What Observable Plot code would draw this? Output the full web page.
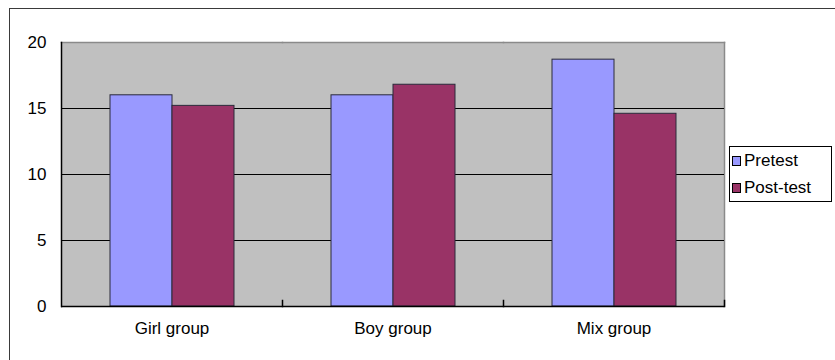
<!DOCTYPE html>
<html>
<head>
<meta charset="utf-8">
<script src="https://cdn.jsdelivr.net/npm/d3@7"></script>
<script src="https://cdn.jsdelivr.net/npm/@observablehq/plot@0.6"></script>
<style>
  html, body { margin: 0; padding: 0; background: #fff; overflow: hidden; }
  body { width: 835px; height: 360px; position: relative; font-family: "Liberation Sans", Arial, sans-serif; }
  #chart { position: absolute; left: 0; top: 0; }
  #outer { position: absolute; left: 9px; top: 8px; width: 900px; height: 400px; border: 1.5px solid #3a3a3a; box-sizing: border-box; pointer-events: none; }
  #legend { position: absolute; left: 729px; top: 146px; width: 103px; height: 56px; border: 1px solid #000; box-sizing: border-box; background: #fff; }
  .item { position: absolute; left: 2px; height: 20px; display: flex; align-items: center; font-size: 17px; color: #000; }
  .sw { width: 9px; height: 10px; border: 1px solid #000; margin-right: 3px; box-sizing: border-box; }
</style>
</head>
<body>
<div id="chart"></div>
<div id="legend"></div>
<div id="outer"></div>
<script>
const groups = ["Girl group", "Boy group", "Mix group"];
const seriesNames = ["Pretest", "Post-test"];
const pretest = [16.0, 16.0, 18.7];
const posttest = [15.2, 16.8, 14.6];
const seriesColors = ["#9999FF", "#993366"];
const yTicks = [0, 5, 10, 15, 20];
const gridValues = [5, 10, 15];

const data = [];
groups.forEach((g, i) => {
  data.push({group: g, series: seriesNames[0], value: pretest[i]});
  data.push({group: g, series: seriesNames[1], value: posttest[i]});
});

const W = 835, H = 360;
const mTop = 42, mBottom = 54, mLeft = 60, mRight = 111;
const innerH = H - mTop - mBottom;

const chart = Plot.plot({
  width: W,
  height: H,
  marginTop: mTop,
  marginBottom: mBottom,
  marginLeft: mLeft,
  marginRight: mRight,
  style: {background: "transparent", fontFamily: "'Liberation Sans', Arial, sans-serif", fontSize: "17px", color: "#000"},
  fx: {domain: groups, padding: 0, label: null},
  x: {domain: seriesNames, paddingInner: 0, paddingOuter: 0.757, axis: null},
  y: {domain: [0, 20], label: null},
  color: {domain: seriesNames, range: seriesColors},
  marks: [
    Plot.frame({fill: "#c0c0c0", stroke: "#c0c0c0", strokeWidth: 1}),
    Plot.frame({anchor: "top", stroke: "#8a8a8a", strokeWidth: 1.5}),
    Plot.frame({anchor: "right", stroke: "#8a8a8a", strokeWidth: 1.5, facetAnchor: "right"}),
    Plot.ruleY(gridValues, {stroke: "#000", strokeWidth: 1}),
    Plot.barY(data, {fx: "group", x: "series", y: "value", fill: "series", stroke: "#2a2a3a", strokeWidth: 1}),
    Plot.ruleY([0], {stroke: "#000", strokeWidth: 1.5}),
    Plot.frame({anchor: "left", stroke: "#000", strokeWidth: 1.5, facetAnchor: "left"}),
    Plot.frame({anchor: "right", stroke: "#000", strokeWidth: 1.5, insetTop: innerH - 6}),
    Plot.axisY(yTicks, {tickSize: 0, tickPadding: 15, fontSize: 17, label: null, facetAnchor: "left"}),
    Plot.axisFx({anchor: "bottom", tickSize: 0, tickPadding: 15, fontSize: 17, label: null})
  ]
});
document.getElementById("chart").appendChild(chart);

const legend = document.getElementById("legend");
seriesNames.forEach((s, i) => {
  const it = document.createElement("div");
  it.className = "item";
  it.style.top = (4 + i * 27) + "px";
  const sw = document.createElement("div");
  sw.className = "sw";
  sw.style.background = seriesColors[i];
  const t = document.createElement("span");
  t.textContent = s;
  it.appendChild(sw);
  it.appendChild(t);
  legend.appendChild(it);
});
</script>
</body>
</html>
